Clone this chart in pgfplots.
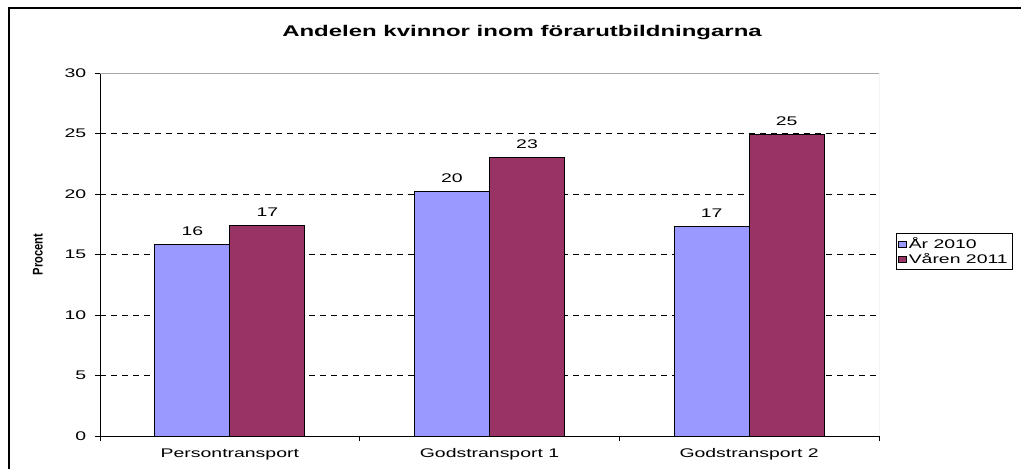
\documentclass[border=0pt]{standalone}
\usepackage{pgfplots}
\pgfplotsset{compat=1.18}
\usepackage{fontspec}
\setmainfont{Liberation Sans}[FakeStretch=1.55]
\newfontfamily\plainsans{Liberation Sans}
\definecolor{serA}{HTML}{9999FF}
\definecolor{serB}{HTML}{993366}
\begin{document}
\begin{tikzpicture}[x=0.75pt,y=0.75pt]
\useasboundingbox (0,0) rectangle (1021,468);
\draw[line width=1.1pt] (9,-30) -- (9,460) -- (1100,460);
\node[anchor=base, font=\fontsize{11.6}{14}\selectfont\bfseries] at (522,431.7) {Andelen kvinnor inom förarutbildningarna};
\begin{axis}[
  at={(75pt,24pt)}, anchor=south west,
  scale only axis, width=584.25pt, height=272.25pt,
  xmin=-0.5, xmax=2.5, ymin=0, ymax=30,
  ytick={0,5,...,30},
  xtick={-0.5,0.5,1.5,2.5},
  xticklabels={},
  extra x ticks={0,1,2},
  extra x tick labels={Persontransport, Godstransport 1, Godstransport 2},
  extra x tick style={major tick length=0pt},
  tick align=outside,
  major tick length=3.75pt,
  tick style={black, line width=0.6pt},
  axis x line*=bottom, axis y line*=left,
  axis line style={black, line width=0.75pt},
  ymajorgrids,
  major grid style={black, line width=0.6pt, dash pattern=on 4.5pt off 3.75pt},
  /pgf/number format/assume math mode=true,
  tick label style={font=\fontsize{9.4}{11}\selectfont},
  yticklabel style={xshift=-3pt},
  xticklabel style={yshift=-6pt},
  ylabel={\scalebox{1}[1.25]{\plainsans\fontsize{8.4}{10}\selectfont\bfseries Procent}},
  every axis y label/.style={at={(axis description cs:-0.0796,0.5)}, rotate=90, anchor=center},
  ybar=0pt, bar width=0.289,
  nodes near coords={\pgfmathprintnumber[fixed,precision=0]{\pgfplotspointmeta}},
  every node near coord/.append style={font=\fontsize{9.4}{11}\selectfont, black, yshift=3pt},
  legend style={at={(1.0218,0.559)}, anchor=north west, draw=black, line width=0.75pt,
    font=\fontsize{9.4}{11}\selectfont, inner xsep=1.5pt, inner ysep=2pt,
    nodes={inner ysep=1pt, inner xsep=1.8pt}, cells={anchor=west}, row sep=0pt},
  legend image code/.code={\draw[#1, line width=0.4pt] (0pt,-2.25pt) rectangle (5.5pt,2.25pt);},
]
\addplot[fill=serA, draw=black, line width=0.6pt] coordinates {(0,15.8) (1,20.2) (2,17.3)};
\addplot[fill=serB, draw=black, line width=0.6pt] coordinates {(0,17.4) (1,23.0) (2,24.9)};
\legend{År 2010, Våren 2011}
\draw[gray!70, line width=0.75pt] (rel axis cs:0,1) -- (rel axis cs:1,1) -- (rel axis cs:1,0);
\end{axis}
\end{tikzpicture}
\end{document}
